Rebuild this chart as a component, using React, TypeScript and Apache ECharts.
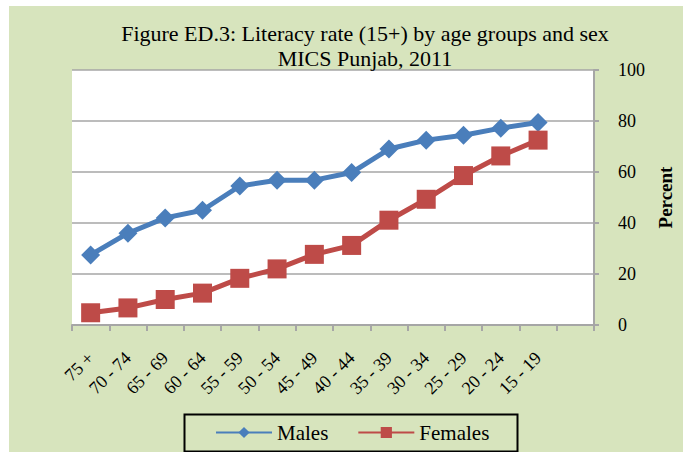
import React, { useEffect, useRef } from "react";
import * as echarts from "echarts";

const categories = ["75 +", "70 - 74", "65 - 69", "60 - 64", "55 - 59", "50 - 54", "45 - 49", "40 - 44", "35 - 39", "30 - 34", "25 - 29", "20 - 24", "15 - 19", ""];
const males = [27.5, 36, 42, 45, 54.5, 56.8, 56.8, 59.8, 69, 72.5, 74.4, 77.2, 79.4];
const females = [4.8, 6.7, 10, 12.5, 18.3, 22, 27.7, 31.2, 41.1, 49.3, 58.6, 66.3, 72.5];
const yTicks = [0, 20, 40, 60, 80, 100];

const FONT = "'Liberation Serif', serif";

export default function App() {
  const ref = useRef<HTMLDivElement>(null);
  useEffect(() => {
    if (!ref.current) return;
    const chart = echarts.init(ref.current, null, { renderer: "svg" });
    chart.setOption({
      animation: false,
      backgroundColor: "#ffffff",
      textStyle: { fontFamily: FONT, color: "#000" },
      graphic: [
        { type: "rect", left: 9, top: 6, shape: { width: 674, height: 446 }, style: { fill: "#D7E4BD" }, z: -10 },
        { type: "rect", left: 182, top: 412, shape: { width: 333, height: 37 }, style: { fill: "none", stroke: "#000", lineWidth: 2 }, z: 10 },
      ],
      title: {
        text: "Figure ED.3: Literacy rate (15+) by age groups and sex\nMICS Punjab, 2011",
        left: 360,
        textAlign: "center",
        top: 16,
        textStyle: { fontFamily: FONT, fontSize: 22, fontWeight: "normal", color: "#000", lineHeight: 25 },
      },
      legend: {
        left: 210,
        top: 417,
        itemWidth: 56,
        itemHeight: 14,
        itemGap: 29,
        textStyle: { fontFamily: FONT, fontSize: 21, color: "#000" },
        data: ["Males", "Females"],
      },
      grid: {
        left: 72,
        right: 77,
        top: 70,
        bottom: 127,
        show: true,
        backgroundColor: "#ffffff",
        borderWidth: 0,
      },
      xAxis: {
        type: "category",
        data: categories,
        boundaryGap: true,
        axisLine: { lineStyle: { color: "#A6A6A6", width: 2 } },
        axisTick: { show: true, length: 6, lineStyle: { color: "#A6A6A6", width: 2 } },
        axisLabel: { rotate: 45, interval: 0, margin: 30, fontFamily: FONT, fontSize: 18, color: "#000" },
      },
      yAxis: {
        type: "value",
        position: "right",
        min: 0,
        max: 100,
        interval: 20,
        name: "Percent",
        nameLocation: "middle",
        nameRotate: 90,
        nameGap: 62,
        nameTextStyle: { fontFamily: FONT, fontSize: 19, fontWeight: "bold", color: "#000" },
        axisLine: { show: true, lineStyle: { color: "#A6A6A6", width: 2 } },
        axisTick: { show: true, length: 5, lineStyle: { color: "#A6A6A6", width: 2 } },
        axisLabel: {
          margin: 24,
          fontFamily: FONT,
          fontSize: 18,
          color: "#000",
          formatter: (v: number) => (yTicks.includes(v) ? String(v) : ""),
        },
        splitLine: { lineStyle: { color: "#A6A6A6", width: 1.5 } },
      },
      series: [
        {
          name: "Males",
          type: "line",
          data: males,
          symbol: "diamond",
          symbolSize: 19,
          lineStyle: { color: "#4A7EBB", width: 5 },
          itemStyle: { color: "#4A7EBB" },
        },
        {
          name: "Females",
          type: "line",
          data: females,
          symbol: "rect",
          symbolSize: 19,
          lineStyle: { color: "#BE4B48", width: 5 },
          itemStyle: { color: "#BE4B48" },
        },
      ],
    });
    return () => chart.dispose();
  }, []);
  return <div ref={ref} style={{ position: "fixed", left: 0, top: 0, width: 683, height: 452 }} />;
}
